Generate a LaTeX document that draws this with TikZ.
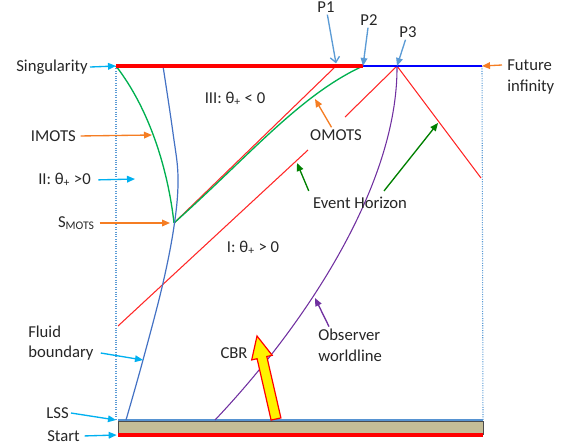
\documentclass[tikz,border=0pt]{standalone}
\usepackage{fontspec}
\setmainfont{Carlito}
\usepackage{tikz}
\usetikzlibrary{arrows.meta, positioning, calc}
\definecolor{skyarrow}{RGB}{0,176,240}
\definecolor{motsorange}{RGB}{245,125,35}
\definecolor{motsgreen}{RGB}{0,176,80}
\definecolor{ehgreen}{RGB}{0,128,0}
\definecolor{fluidblue}{RGB}{68,114,196}
\definecolor{pointblue}{RGB}{91,155,213}
\definecolor{obspurple}{RGB}{112,48,160}
\definecolor{lssbeige}{RGB}{196,189,151}
\definecolor{horizonred}{RGB}{255,40,40}

\begin{document}
\begin{tikzpicture}[x=0.75pt, y=-0.75pt,
   lbl/.style={font=\fontsize{12.5}{15.5}\selectfont, text=black!85, inner sep=1.5pt},
   arr/.style={-{Triangle[length=6pt,width=5pt]}, line width=1pt},
   skyarr/.style={arr, draw=skyarrow},
   orangearr/.style={arr, draw=motsorange},
   eharr/.style={arr, draw=ehgreen},
   obsarr/.style={arr, draw=obspurple},
   parr/.style={arr, draw=pointblue},
   horizon/.style={draw=horizonred, line width=0.8pt},
   motsline/.style={draw=motsgreen, line width=1pt},
   edge/.style={draw=pointblue, line width=0.8pt, densely dotted}]

  \useasboundingbox (0,0) rectangle (588,444);

  \coordinate (sing) at (116,66);
  \coordinate (futinf) at (482,66);
  \coordinate (pone) at (336,66);
  \coordinate (ptwo) at (363,66);
  \coordinate (pthree) at (397,66);
  \coordinate (smots) at (174,223);
  \coordinate (lssW) at (118,420);
  \coordinate (lssE) at (483,420);
  \coordinate (startW) at (118,435);
  \coordinate (startE) at (483,435);
  \coordinate (imotstip) at (152,135);
  \coordinate (twotip) at (135,179);
  \coordinate (fluidtip) at (143,360);
  \coordinate (omotstip) at (315,99);
  \coordinate (ehtipA) at (297,163);
  \coordinate (ehtipB) at (438,123);
  \coordinate (obstip) at (315,298);

  \draw[edge] (sing) -- (116,420);
  \draw[edge] (futinf) -- (lssE);

  \draw[fill=lssbeige, draw=black!70, line width=0.6pt] (118,421) rectangle (483,434);
  \draw[red, line width=2.4pt] (startW) -- (startE);
  \draw[pointblue!80!fluidblue, line width=2pt] (lssW) -- (lssE);

  \draw[horizon] (smots) -- (pone);
  \draw[horizon] (118,326) -- (308,150);
  \draw[horizon] (345,117) -- (pthree) -- (481,178);

  \draw[motsline] (sing) .. controls (150,110) and (168,170) .. (smots);
  \draw[motsline] (smots) .. controls (250,155) and (300,95) .. (ptwo);
  \draw[fluidblue, line width=0.9pt] plot[smooth, tension=0.6] coordinates
       {(126,420) (143,360) (163,283) (174.5,223) (178,177) (173,133) (163,66)};
  \draw[obspurple, line width=0.8pt] (215,420) .. controls (305,325) and (398,185) .. (pthree);

  \draw[red, line width=2.6pt] (sing) -- (ptwo);
  \draw[blue, line width=1.6pt] (ptwo) -- (futinf);

  \draw[draw=red, fill=yellow, line width=0.9pt, line join=miter]
       (280.9,417.9) -- (266.8,356.5) -- (272.2,355.3) -- (257,336)
       -- (251.7,359.9) -- (257.1,358.7) -- (271.1,420.1) -- cycle;

  \node[lbl, anchor=east] (singlbl) at (90,67) {Singularity};
  \node[lbl, anchor=east] (imotslbl) at (78,136) {IMOTS};
  \node[lbl, anchor=east] (twolbl) at (93,180) {II: θ\textsubscript{+} >0};
  \node[lbl, anchor=east] (smotslbl) at (97,223) {S\textsubscript{MOTS}};
  \node[lbl, align=left, anchor=west] (fluidlbl) at (26,343) {Fluid\\boundary};
  \node[lbl, anchor=east] (lsslbl) at (71,413) {LSS};
  \node[lbl, anchor=east] (startlbl) at (82,436) {Start};
  \node[lbl] (threelbl) at (235,99) {III: θ\textsubscript{+} < 0};
  \node[lbl] (onelbl) at (253,248) {I: θ\textsubscript{+} > 0};
  \node[lbl] (omotslbl) at (336,135) {OMOTS};
  \node[lbl] (ehlbl) at (360,203) {Event Horizon};
  \node[lbl] (cbrlbl) at (234,353) {CBR};
  \node[lbl, align=left, anchor=west] (obslbl) at (316,345) {Observer\\worldline};
  \node[lbl, align=left, anchor=west] (futlbl) at (505,77) {Future\\infinity};
  \node[lbl] (ponelbl) at (326,7) {P1};
  \node[lbl] (ptwolbl) at (369,20) {P2};
  \node[lbl] (pthreelbl) at (408,32) {P3};

  \draw[skyarr] (singlbl.east) -- (sing);
  \draw[orangearr, shorten <=2pt] (imotslbl.east) -- (imotstip);
  \draw[skyarr, shorten <=4pt] (twolbl.east) -- (twotip);
  \draw[orangearr, shorten <=2pt, shorten >=3pt] (smotslbl.east) -- (smots);
  \draw[skyarr] ($(fluidlbl.east)+(5,10)$) -- (fluidtip);
  \draw[skyarr] (lsslbl.east) -- ([xshift=-1.5pt]lssW);
  \draw[skyarr, shorten <=2pt] (startlbl.east) -- ([xshift=-1pt]startW);
  \draw[orangearr] (omotslbl) -- (omotstip);
  \draw[eharr] ($(ehlbl.north west)+(-2,-4)$) -- (ehtipA);
  \draw[eharr] ($(ehlbl.north)+(24,-4)$) -- (ehtipB);
  \draw[obsarr] ($(obslbl.north west)+(13,0)$) -- (obstip);
  \draw[orangearr] ($(futlbl.west)+(-3,-12)$) -- (futinf);
  \draw[parr, -{Straight Barb[length=4pt,width=7pt]}] (ponelbl) -- ([yshift=2pt]pone);
  \draw[parr] (ptwolbl) -- (ptwo);
  \draw[parr] (pthreelbl) -- (pthree);
\end{tikzpicture}
\end{document}
